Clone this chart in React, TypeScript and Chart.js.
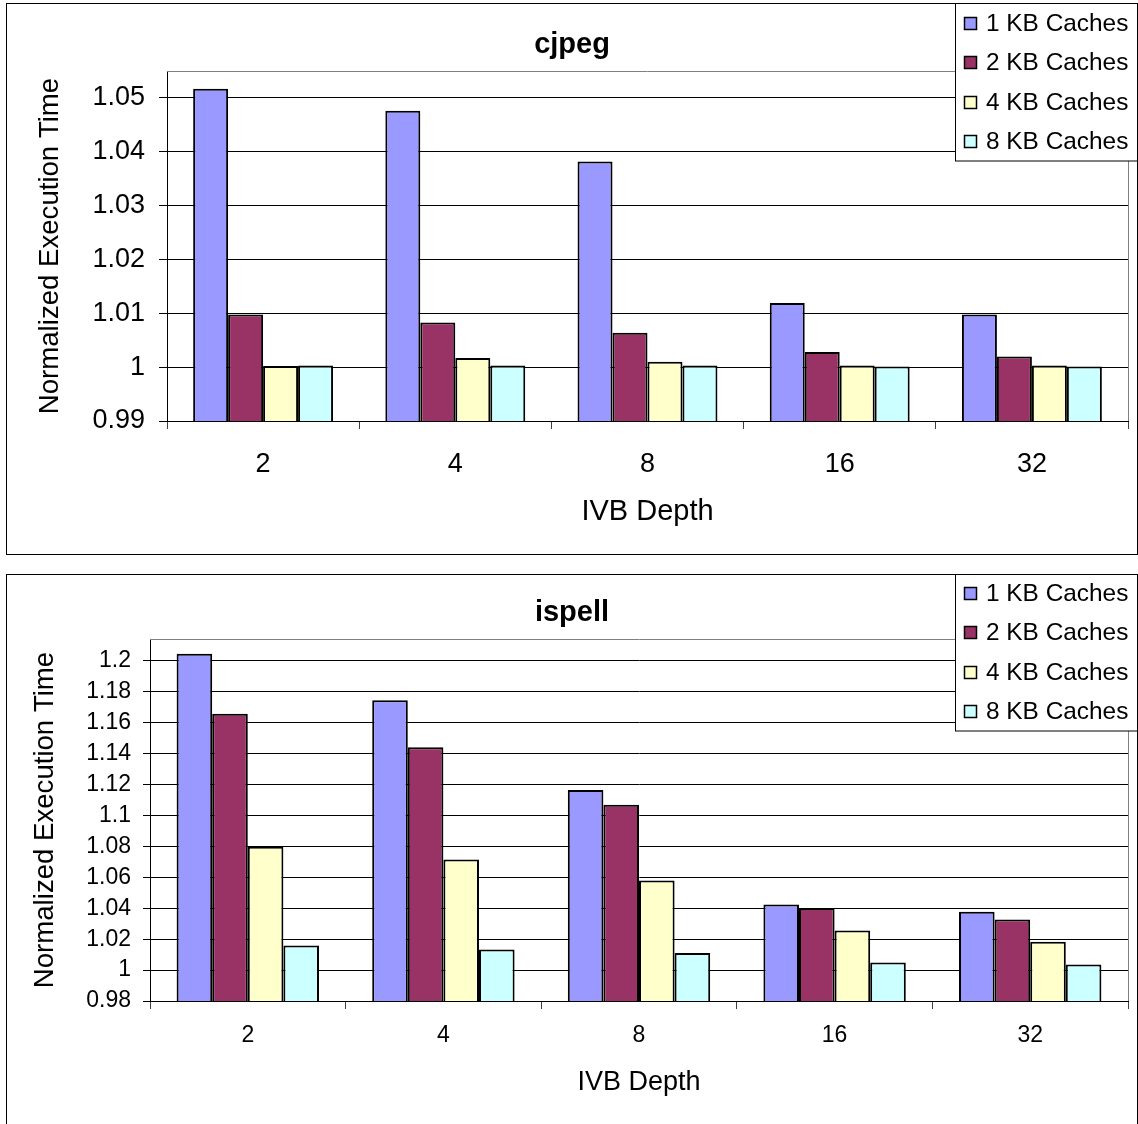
import React, { useEffect, useRef } from 'react';
import { Chart, registerables } from 'chart.js';

Chart.register(...registerables);

const FONT = '"Liberation Sans", Arial, Helvetica, sans-serif';

// ---- data ----
const depthLabels = ['2', '4', '8', '16', '32'];
const seriesNames = ['1 KB Caches', '2 KB Caches', '4 KB Caches', '8 KB Caches'];
const seriesColors = ['#9999FF', '#993366', '#FFFFCC', '#CCFFFF'];

const cjpeg1KB = [1.0517, 1.0476, 1.0382, 1.0119, 1.0098];
const cjpeg2KB = [1.0098, 1.0083, 1.0064, 1.0028, 1.002];
const cjpeg4KB = [1.0002, 1.0017, 1.001, 1.0003, 1.0003];
const cjpeg8KB = [1.0003, 1.0003, 1.0003, 1.0001, 1.0001];
const cjpegYTicks = [0.99, 1, 1.01, 1.02, 1.03, 1.04, 1.05];

const ispell1KB = [1.2047, 1.1745, 1.1165, 1.0425, 1.0377];
const ispell2KB = [1.1659, 1.1441, 1.107, 1.0401, 1.0328];
const ispell4KB = [1.0798, 1.0716, 1.058, 1.0256, 1.0183];
const ispell8KB = [1.0159, 1.0133, 1.011, 1.0049, 1.0036];
const ispellYTicks = [0.98, 1, 1.02, 1.04, 1.06, 1.08, 1.1, 1.12, 1.14, 1.16, 1.18, 1.2];

const xAxisTitle = 'IVB Depth';
const yAxisTitle = 'Normalized Execution Time';

type Spec = {
  title: string;
  series: number[][];
  yMin: number;
  yMax: number;
  yTicks: number[];
  area: { left: number; right: number; top: number; bottom: number };
  tickSize: number;
  yTickLen: number;
  yTickPad: number;
  xTickPad: number;
  yTitleSize: number;
  xTitleSize: number;
  yTitlePad: number;
  xTitlePad: number;
  titleY: number;
  legendRows: number[];
  legendBottom: number;
};

const W = 1130;
const H = 550;

const decorPlugin = {
  id: 'decor',
  afterDraw(chart: any, _args: any, opts: any) {
    const ctx = chart.ctx as CanvasRenderingContext2D;
    const a = chart.chartArea;
    ctx.save();
    // plot area top / right border
    ctx.strokeStyle = '#808080';
    ctx.lineWidth = 1;
    ctx.beginPath();
    ctx.moveTo(Math.round(a.left), Math.round(a.top) + 0.5);
    ctx.lineTo(Math.round(a.right) + 0.5, Math.round(a.top) + 0.5);
    ctx.lineTo(Math.round(a.right) + 0.5, Math.round(a.bottom));
    ctx.stroke();

    // title
    ctx.fillStyle = '#000';
    ctx.font = `bold 29px ${FONT}`;
    ctx.textAlign = 'center';
    ctx.textBaseline = 'middle';
    ctx.fillText(opts.title, chart.width / 2, opts.titleY);

    // legend
    const lx = 948.5;
    const ly = -0.5;
    const lw = 182;
    const lh = opts.legendBottom + 0.5;
    ctx.fillStyle = '#fff';
    ctx.fillRect(lx, ly, lw, lh);
    ctx.strokeStyle = '#000';
    ctx.lineWidth = 1;
    ctx.strokeRect(lx, ly, lw, lh);
    ctx.font = `24.4px ${FONT}`;
    ctx.textAlign = 'left';
    ctx.textBaseline = 'middle';
    chart.data.datasets.forEach((ds: any, i: number) => {
      const cy = opts.legendRows[i];
      ctx.fillStyle = ds.backgroundColor;
      ctx.fillRect(957.5, cy - 5.5, 12, 12);
      ctx.strokeStyle = '#000';
      ctx.lineWidth = 1.5;
      ctx.strokeRect(957.5, cy - 5.5, 12, 12);
      ctx.fillStyle = '#000';
      ctx.fillText(ds.label, 979, cy + 1);
    });
    ctx.restore();
  },
};

function BarPanel({ spec }: { spec: Spec }) {
  const ref = useRef<HTMLCanvasElement | null>(null);
  useEffect(() => {
    if (!ref.current) return;
    const { area } = spec;
    const chart = new Chart(ref.current, {
      type: 'bar',
      data: {
        labels: depthLabels,
        datasets: spec.series.map((vals, i) => ({
          label: seriesNames[i],
          data: vals,
          backgroundColor: seriesColors[i],
          borderColor: '#000',
          borderWidth: 2,
          borderSkipped: false,
          categoryPercentage: 0.728,
          barPercentage: 1,
        })),
      },
      options: {
        responsive: false,
        animation: false,
        devicePixelRatio: 1,
        layout: { padding: { left: 0, top: area.top, right: W - area.right, bottom: 0 } },
        plugins: {
          legend: { display: false },
          title: { display: false },
          tooltip: { enabled: false },
          decor: {
            title: spec.title,
            titleY: spec.titleY,
            legendRows: spec.legendRows,
            legendBottom: spec.legendBottom,
          },
        } as any,
        scales: {
          x: {
            afterFit: (s: any) => {
              s.height = H - area.bottom;
            },
            grid: {
              drawOnChartArea: false,
              drawTicks: true,
              tickLength: 8,
              color: '#404040',
              offset: true,
            },
            border: { color: '#000', width: 1 },
            ticks: {
              color: '#000',
              font: { family: FONT, size: spec.tickSize },
              padding: spec.xTickPad,
              maxRotation: 0,
            },
            title: {
              display: true,
              text: xAxisTitle,
              color: '#000',
              font: { family: FONT, size: spec.xTitleSize },
              padding: { top: 0, bottom: spec.xTitlePad },
            },
          },
          y: {
            min: spec.yMin,
            max: spec.yMax,
            afterFit: (s: any) => {
              s.width = area.left;
            },
            afterBuildTicks: (s: any) => {
              s.ticks = spec.yTicks.map((v) => ({ value: v }));
            },
            grid: {
              color: '#000',
              lineWidth: 1,
              tickLength: spec.yTickLen,
              drawTicks: true,
            },
            border: { color: '#000', width: 1 },
            ticks: {
              color: '#000',
              font: { family: FONT, size: spec.tickSize },
              padding: spec.yTickPad,
              callback: (v: any) => String(v),
            },
            title: {
              display: true,
              text: yAxisTitle,
              color: '#000',
              font: { family: FONT, size: spec.yTitleSize },
              padding: { top: spec.yTitlePad, bottom: 0 },
            },
          },
        },
      },
      plugins: [decorPlugin],
    });
    return () => chart.destroy();
  }, [spec]);
  return <canvas ref={ref} width={W} height={H} style={{ display: 'block', width: W, height: H }} />;
}

const cjpegSpec: Spec = {
  title: 'cjpeg',
  series: [cjpeg1KB, cjpeg2KB, cjpeg4KB, cjpeg8KB],
  yMin: 0.99,
  yMax: 1.055,
  yTicks: cjpegYTicks,
  area: { left: 160, right: 1121, top: 67, bottom: 417 },
  tickSize: 27,
  yTickLen: 8,
  yTickPad: 14,
  xTickPad: 19,
  yTitleSize: 27.6,
  xTitleSize: 29,
  yTitlePad: 27,
  xTitlePad: 25,
  titleY: 41,
  legendRows: [19, 58, 98, 137],
  legendBottom: 157,
};

const ispellSpec: Spec = {
  title: 'ispell',
  series: [ispell1KB, ispell2KB, ispell4KB, ispell8KB],
  yMin: 0.98,
  yMax: 1.2142,
  yTicks: ispellYTicks,
  area: { left: 143, right: 1121, top: 64, bottom: 426 },
  tickSize: 23,
  yTickLen: 7,
  yTickPad: 12,
  xTickPad: 13,
  yTitleSize: 27.6,
  xTitleSize: 27,
  yTitlePad: 22,
  xTitlePad: 26,
  titleY: 38,
  legendRows: [18, 57, 97, 136],
  legendBottom: 156,
};

export default function App() {
  return (
    <div
      style={{
        position: 'absolute',
        left: 0,
        top: 0,
        width: 1138,
        height: 1124,
        overflow: 'hidden',
        background: '#fff',
      }}
    >
      <div
        style={{
          position: 'absolute',
          left: 6,
          top: 3,
          width: W,
          height: H,
          border: '1px solid #000',
          overflow: 'hidden',
        }}
      >
        <BarPanel spec={cjpegSpec} />
      </div>
      <div
        style={{
          position: 'absolute',
          left: 6,
          top: 574,
          width: W,
          height: H,
          border: '1px solid #000',
          overflow: 'hidden',
        }}
      >
        <BarPanel spec={ispellSpec} />
      </div>
    </div>
  );
}
